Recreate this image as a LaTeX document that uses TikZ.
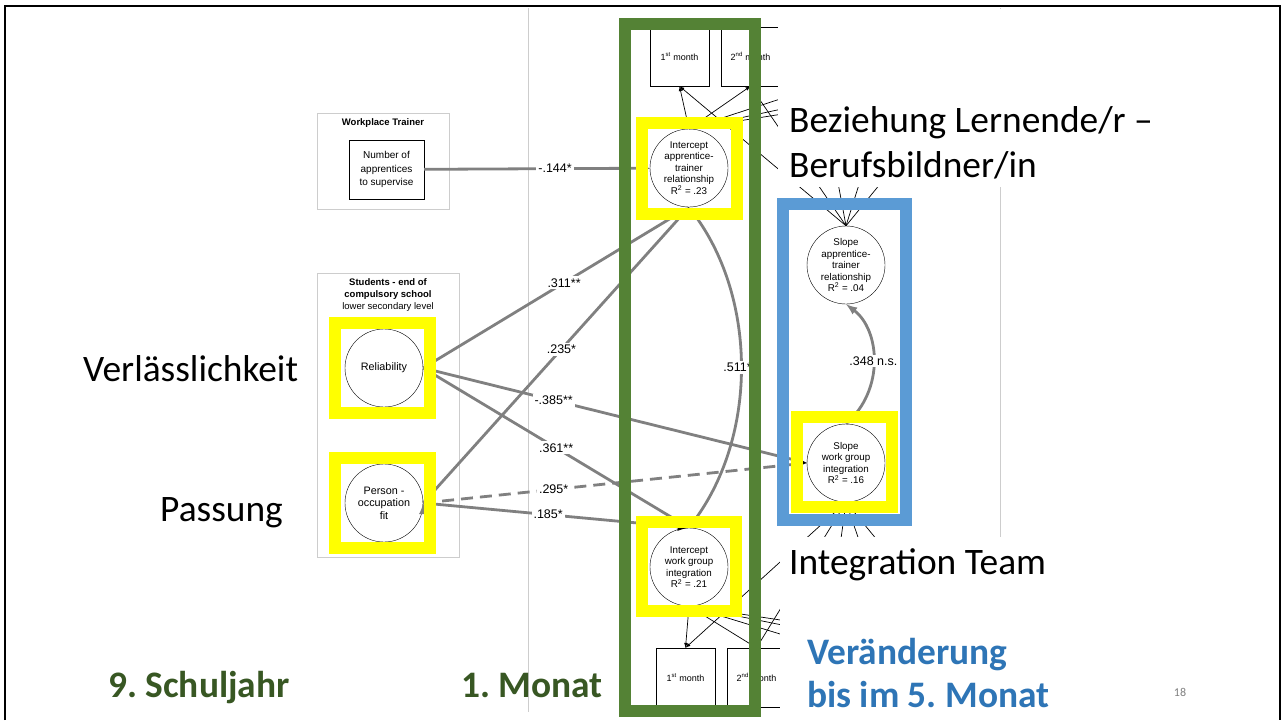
\documentclass[tikz,border=0pt]{standalone}
\usepackage{fontspec}
\setmainfont{Liberation Sans}
\newfontfamily\slidefont{Carlito}
\usetikzlibrary{positioning}
\definecolor{hiyellow}{RGB}{255,255,0}
\definecolor{frgreen}{RGB}{84,130,53}
\definecolor{frblue}{RGB}{91,155,213}
\definecolor{pathgrey}{RGB}{128,128,128}
\definecolor{sepgrey}{RGB}{205,205,205}
\definecolor{txtgreen}{RGB}{56,87,35}
\definecolor{txtblue}{RGB}{46,117,182}
\frenchspacing

\begin{document}
\begin{tikzpicture}[x=1pt, y=-1pt, >=latex, node distance=71pt, on grid,
  latent/.style={circle, draw, fill=white, minimum size=78pt, inner sep=0pt, align=center, font=\fontsize{9.8}{11.5}\selectfont},
  indicator/.style={rectangle, draw, fill=white, minimum width=59pt, minimum height=59pt, inner sep=0pt, font=\fontsize{9}{11}\selectfont},
  effect/.style={draw=pathgrey, line width=2.8pt},
  loading/.style={draw=black, line width=0.7pt, ->},
  coef/.style={fill=white, inner sep=2pt, font=\fontsize{12.5}{14}\selectfont, text=black},
  hilite/.style={draw=hiyellow, line width=12pt},
  slidetext/.style={anchor=base west, inner sep=0pt, font=\slidefont\fontsize{37.4}{44}\selectfont},
  slidehead/.style={slidetext, font=\slidefont\bfseries\fontsize{37.4}{44}\selectfont}]
\useasboundingbox (0,0) rectangle (1284,720);

\draw[sepgrey] (528,8) -- (528,712);
\draw[sepgrey] (1000,8) -- (1000,712);

\draw[sepgrey, line width=0.8pt] (317,113) rectangle (449,209);
\node[font=\bfseries\fontsize{9.5}{11}\selectfont] (wt) at (383,123) {Workplace Trainer};
\draw[sepgrey, line width=0.8pt] (317,273) rectangle (459,557);
\node[align=center, font=\fontsize{9.5}{12}\selectfont] (st) at (388,295) {\textbf{Students - end of}\\\textbf{compulsory school}\\lower secondary level};

\node[draw, minimum width=75pt, minimum height=59pt, align=center, font=\fontsize{10}{13.3}\selectfont] (nap) at (386.5,169.5) {Number of\\apprentices\\to supervise};
\node[latent, font=\fontsize{10.8}{12.5}\selectfont] (rel) at (384,368) {Reliability};
\node[latent, font=\fontsize{10.8}{12.5}\selectfont] (pof) at (384,503) {Person -\\occupation\\fit};
\node[latent] (atr) at (689,168) {Intercept\\apprentice-\\trainer\\relationship\\R\textsuperscript{2} = .23};
\node[latent] (wgi) at (689,567) {Intercept\\work group\\integration\\R\textsuperscript{2} = .21};
\node[latent] (satr) at (846,265) {Slope\\apprentice-\\trainer\\relationship\\R\textsuperscript{2} = .04};
\node[latent] (swgi) at (846,463) {Slope\\work group\\integration\\R\textsuperscript{2} = .16};
\node[indicator] (m1a) at (679.5,56.5) {1\textsuperscript{st} month};
\node[indicator] (m2a) [right=of m1a] {2\textsuperscript{nd} month};
\node[indicator] (m1b) at (685.5,677.5) {1\textsuperscript{st} month};
\node[indicator] (m2b) [right=of m1b] {2\textsuperscript{nd} month};
\coordinate (m3a) at (820,86);
\coordinate (m4a) at (890,86);
\coordinate (m5a) at (960,86);
\coordinate (m3b) at (826,648);
\coordinate (m4b) at (896,648);
\coordinate (m5b) at (966,648);

\path[loading]
(atr.north) edge (m1a.south) edge (m2a.south) edge (m3a) edge (m4a) edge (m5a)
(satr.north) edge (m1a.south) edge (m2a.south) edge (m3a) edge (m4a) edge (m5a)
(wgi.south) edge (m1b.north) edge (m2b.north) edge (m3b) edge (m4b) edge (m5b)
(swgi.south) edge (m1b.north) edge (m2b.north) edge (m3b) edge (m4b) edge (m5b);

\path[effect, ->]
(nap) edge node[coef, pos=0.58] {-.144*} (atr)
(rel.east) edge node[coef, pos=0.53] {.311**} (atr.south)
  edge node[coef, pos=0.34] {-.385**} (swgi.west)
  edge node[coef, pos=0.5] {.361**} (wgi.north)
(pof.east) edge node[coef, pos=0.52] {.235*} (atr.south)
  edge[dash pattern=on 12pt off 7pt] node[coef, pos=0.34] {.295*} (swgi.west)
  edge node[coef, pos=0.47] {.185*} (wgi.north);
\draw[effect, <->] (atr.south) .. controls (757,300) and (757,435) .. node[coef] {.511**} (wgi.north);
\draw[effect, ->] (swgi.north) .. controls (885,390) and (880,330) .. node[coef] {.348 n.s.} (satr.south);

\draw[hilite] (335,323) rectangle (430,413);
\draw[hilite] (335,458) rectangle (430,548);
\draw[hilite] (642,123) rectangle (737,214);
\draw[hilite] (642,522) rectangle (736,611);
\draw[hilite] (797,417) rectangle (892,507);
\draw[frgreen, line width=12pt] (625,24) rectangle (755,711);
\draw[frblue, line width=12pt] (783,204) rectangle (906,520);

\fill[white] (778,9) rectangle (1277,187);
\fill[white] (780,537) rectangle (1277,719);

\node[slidetext] (bez1) at (789,132) {Beziehung Lernende/r –};
\node[slidetext] (bez2) at (789,177) {Berufsbildner/in};
\node[slidetext] (verl) at (83,381) {Verlässlichkeit};
\node[slidetext] (pass) at (160,521) {Passung};
\node[slidetext] (team) at (789,574) {Integration Team};
\node[slidehead, text=txtgreen] (year) at (108,697) {9. Schuljahr};
\node[slidehead, text=txtgreen] (mon1) at (461,697) {1. Monat};
\node[slidehead, text=txtblue] (chg1) at (807,664) {Veränderung};
\node[slidehead, text=txtblue] (chg2) at (807,707) {bis im 5. Monat};
\node[font=\slidefont\fontsize{12}{14}\selectfont, text=gray] (page) at (1180,692) {18};

\draw[line width=2.5pt] (5,720) -- (5,6) -- (1280,6) -- (1280,720);
\end{tikzpicture}
\end{document}
